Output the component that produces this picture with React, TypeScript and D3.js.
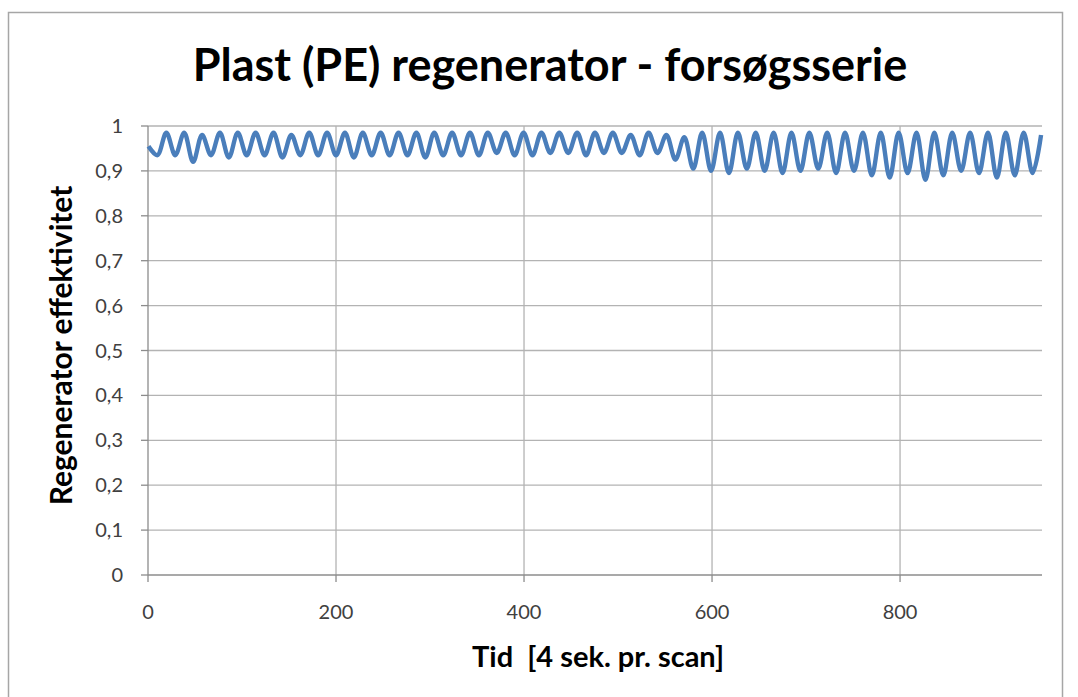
import React, { useEffect, useRef } from 'react';
import * as d3 from 'd3';

// turning points of the measured efficiency curve (scan no. -> efficiency)
const troughX = [10, 29, 48, 67, 86, 105, 124, 143, 162, 181, 200, 219, 238, 257, 276, 295, 314, 333, 352, 371, 390, 409, 428, 447, 466, 485, 504, 523, 542, 561, 580, 599, 618, 637, 656, 675, 694, 713, 732, 751, 770, 789, 808, 827, 846, 865, 884, 903, 922, 941];
const troughY = [0.935, 0.935, 0.92, 0.935, 0.93, 0.935, 0.935, 0.93, 0.935, 0.935, 0.935, 0.93, 0.935, 0.935, 0.935, 0.93, 0.935, 0.935, 0.935, 0.94, 0.935, 0.935, 0.94, 0.94, 0.935, 0.94, 0.94, 0.935, 0.94, 0.925, 0.905, 0.9, 0.895, 0.905, 0.9, 0.895, 0.9, 0.905, 0.895, 0.9, 0.89, 0.885, 0.895, 0.88, 0.89, 0.9, 0.895, 0.885, 0.89, 0.895];
const peakX = [0.5, 19.5, 38.5, 57.5, 76.5, 95.5, 114.5, 133.5, 152.5, 171.5, 190.5, 209.5, 228.5, 247.5, 266.5, 285.5, 304.5, 323.5, 342.5, 361.5, 380.5, 399.5, 418.5, 437.5, 456.5, 475.5, 494.5, 513.5, 532.5, 551.5, 570.5, 589.5, 608.5, 627.5, 646.5, 665.5, 684.5, 703.5, 722.5, 741.5, 760.5, 779.5, 798.5, 817.5, 836.5, 855.5, 874.5, 893.5, 912.5, 931.5, 950];
const peakY = [0.955, 0.985, 0.985, 0.98, 0.985, 0.985, 0.985, 0.985, 0.98, 0.985, 0.985, 0.985, 0.985, 0.985, 0.985, 0.985, 0.985, 0.985, 0.985, 0.985, 0.985, 0.985, 0.985, 0.985, 0.985, 0.985, 0.985, 0.98, 0.985, 0.98, 0.975, 0.985, 0.985, 0.985, 0.985, 0.985, 0.985, 0.985, 0.985, 0.985, 0.985, 0.985, 0.985, 0.985, 0.985, 0.985, 0.985, 0.985, 0.985, 0.985, 0.98];

const yTicks = [0, 0.1, 0.2, 0.3, 0.4, 0.5, 0.6, 0.7, 0.8, 0.9, 1];
const xTicks = [0, 200, 400, 600, 800];

const W = 1078;
const H = 697;

const App: React.FC = () => {
  const svgRef = useRef<SVGSVGElement>(null);

  useEffect(() => {
    if (!svgRef.current) return;
    const svg = d3.select(svgRef.current);
    svg.selectAll('*').remove();

    const left = 148, right = 1042, top = 126, bottom = 575;
    const x = d3.scaleLinear().domain([0, 951]).range([left, right]);
    const y = d3.scaleLinear().domain([0, 1]).range([bottom, top]);

    // outer frame
    svg.append('rect')
      .attr('x', 8.5).attr('y', 12.5)
      .attr('width', 1054).attr('height', 700)
      .attr('fill', '#fff').attr('stroke', '#a6a6a6').attr('stroke-width', 1.5);

    svg.append('text')
      .attr('x', 550).attr('y', 81)
      .attr('text-anchor', 'middle')
      .attr('font-family', 'Lato, sans-serif')
      .attr('font-weight', 'bold')
      .attr('font-size', 45)
      .attr('fill', '#000')
      .text('Plast (PE) regenerator - forsøgsserie');

    const grid = svg.append('g').attr('stroke', '#b3b3b3').attr('stroke-width', 1.3);
    yTicks.filter(t => t > 0).forEach(t => {
      grid.append('line').attr('x1', left).attr('x2', right).attr('y1', y(t)).attr('y2', y(t));
    });
    xTicks.filter(t => t > 0).forEach(t => {
      grid.append('line').attr('x1', x(t)).attr('x2', x(t)).attr('y1', top).attr('y2', bottom);
    });

    // axes
    const axis = svg.append('g').attr('stroke', '#8c8c8c').attr('stroke-width', 1.3);
    axis.append('line').attr('x1', left).attr('x2', left).attr('y1', top).attr('y2', bottom);
    axis.append('line').attr('x1', left).attr('x2', right).attr('y1', bottom).attr('y2', bottom);
    yTicks.forEach(t => {
      axis.append('line').attr('x1', left - 7).attr('x2', left).attr('y1', y(t)).attr('y2', y(t));
    });
    xTicks.forEach(t => {
      axis.append('line').attr('x1', x(t)).attr('x2', x(t)).attr('y1', bottom).attr('y2', bottom + 7);
    });

    const fmt = (v: number) => (v === 0 || v === 1 ? String(v) : v.toFixed(1).replace('.', ','));
    svg.append('g').selectAll('text').data(yTicks).join('text')
      .attr('x', 123).attr('y', d => y(d) + 7)
      .attr('text-anchor', 'end')
      .attr('font-family', 'Lato, sans-serif').attr('font-size', 20).attr('fill', '#404040')
      .text(d => fmt(d));
    svg.append('g').selectAll('text').data(xTicks).join('text')
      .attr('x', d => x(d)).attr('y', 619)
      .attr('text-anchor', 'middle')
      .attr('font-family', 'Lato, sans-serif').attr('font-size', 20).attr('fill', '#404040')
      .text(d => String(d));

    svg.append('text')
      .attr('transform', `translate(72, ${(top + bottom) / 2 - 5}) rotate(-90)`)
      .attr('text-anchor', 'middle')
      .attr('font-family', 'Lato, sans-serif').attr('font-weight', 'bold').attr('font-size', 30)
      .text('Regenerator effektivitet');
    svg.append('text')
      .attr('x', 598).attr('y', 667)
      .attr('text-anchor', 'middle')
      .attr('font-family', 'Lato, sans-serif').attr('font-weight', 'bold').attr('font-size', 29)
      .attr('xml:space', 'preserve')
      .text('Tid  [4 sek. pr. scan]');

    // merge peaks and troughs into one series
    const pts: [number, number][] = [];
    peakX.forEach((px, i) => {
      pts.push([px, peakY[i]]);
      if (i < troughX.length) pts.push([troughX[i], troughY[i]]);
    });
    pts.sort((a, b) => a[0] - b[0]);

    const line = d3.line<[number, number]>()
      .x(d => x(d[0]))
      .y(d => y(d[1]))
      .curve(d3.curveCatmullRom.alpha(0.5));

    svg.append('path')
      .datum(pts)
      .attr('d', line)
      .attr('fill', 'none')
      .attr('stroke', '#4a7ebb')
      .attr('stroke-width', 4.4)
      .attr('stroke-linejoin', 'round');
  }, []);

  return (
    <svg
      ref={svgRef}
      width={W}
      height={H}
      style={{ position: 'absolute', left: 0, top: 0, background: '#fff' }}
    />
  );
};

export default App;
